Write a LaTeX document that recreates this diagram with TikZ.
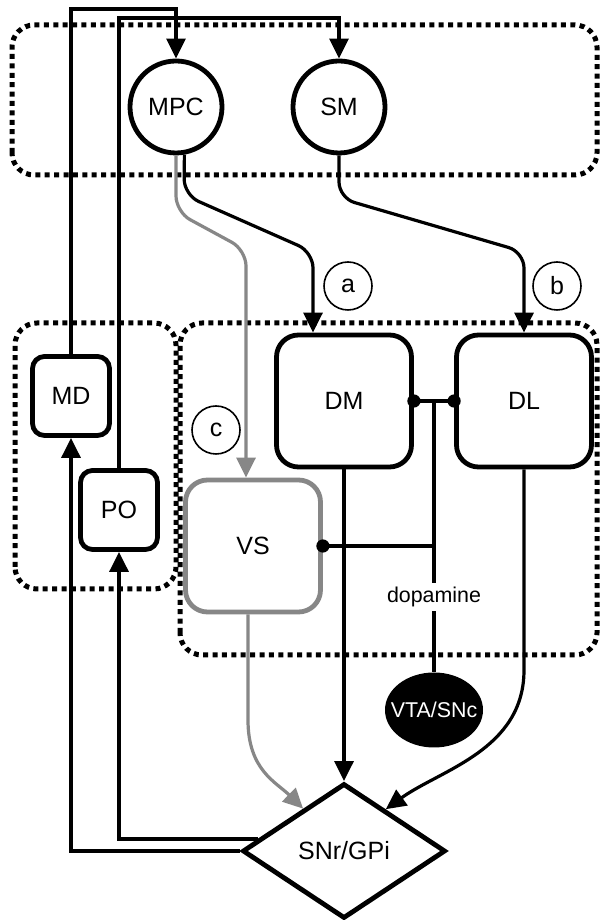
\documentclass[tikz,border=0pt]{standalone}
\usepackage{fontspec}
\setmainfont{Liberation Sans}
\usetikzlibrary{arrows.meta,shapes.geometric}
\definecolor{pathgray}{RGB}{135,135,135}

\begin{document}
\begin{tikzpicture}[x=0.5pt,y=0.5pt,
  lbl/.style={font=\fontsize{12.5}{15}\selectfont},
  conn/.style={line width=1.6pt,-{Triangle[length=10pt,width=9.5pt]}},
  region/.style={line width=2.5pt,dash pattern=on 2.5pt off 2.2pt,rounded corners=11pt},
  area/.style={draw,circle,line width=2.4pt,minimum size=46pt,inner sep=0pt,lbl},
  nucleus/.style={draw,rounded corners=11pt,line width=2.4pt,minimum width=67.5pt,minimum height=66pt,lbl},
  thal/.style={draw,rounded corners=6pt,line width=2.4pt,minimum width=38.5pt,minimum height=39.5pt,lbl},
  tag/.style={draw,circle,line width=0.8pt,minimum size=24pt,inner sep=0pt,lbl}]
  \useasboundingbox (0,0) rectangle (600,920);
  \fill[white] (0,0) rectangle (600,920);
  \draw[region] (12,745) rectangle (597,895);
  \draw[region] (15,331) rectangle (176,597);
  \draw[region] (180,265) rectangle (597,597);

  \node[area] (mpc) at (176,813) {MPC};
  \node[area] (sm) at (339,813) {SM};
  \node[thal] (md) at (71,524) {MD};
  \node[thal] (po) at (119,410) {PO};
  \node[nucleus] (dm) at (344,519) {DM};
  \node[nucleus] (dl) at (524,519) {DL};
  \node[nucleus,draw=pathgray] (vs) at (253,374) {VS};
  \node[ellipse,fill=black,text=white,minimum width=49pt,minimum height=37.5pt,
    inner xsep=-6pt,inner ysep=0pt,font=\fontsize{10.7}{13}\selectfont] (vta) at (434,210) {VTA/SNc};
  \node[diamond,draw,line width=2.4pt,minimum width=101.5pt,minimum height=67.5pt,inner sep=0pt,lbl] (snr) at (344,69) {SNr/GPi};
  \node[tag] (a) at (348,634) {a};
  \node[tag] (b) at (557,634) {b};
  \node[tag] (c) at (216,490) {c};
  \coordinate (hub) at (434,519);

  \draw[conn] (md.north) -- (md.north |- 0,911) -| (mpc.north);
  \draw[conn] (po.north) -- (po.north |- 0,902) -| (sm.north);
  \draw[conn,rounded corners=8pt] (mpc.-80) -- (184,725) -- (313,668) -- (dm.north -| 313,0);
  \draw[conn,pathgray,rounded corners=8pt] (mpc.south) -- (176,708) -- (246,670) -- (vs.north -| 246,0);
  \draw[conn,rounded corners=8pt] (sm.south) -- (339,722) -- (524,668) -- (dl.north);

  \draw[line width=1.6pt] (dm.east) -- (dl.west) (hub) -- (vta.north) (vs.east) -- (vs.east -| hub);
  \fill (dm.east) circle (3.3pt) (dl.west) circle (3.3pt) (vs.east) circle (3.3pt);
  \node[fill=white,inner sep=2pt,font=\fontsize{10.7}{13}\selectfont] (dopa) at (434,323) {dopamine};

  \draw[conn] (dm.south) -- (snr.north);
  \draw[conn,pathgray] (vs.south -| 248,0) -- (248,200) .. controls (248,150) and (276,138) .. (snr.134);
  \draw[conn] (dl.south) -- (524,250) .. controls (524,170) and (440,150) .. (snr.45);
  \draw[conn] (snr.west) -| (md.south);
  \draw[conn] (snr.172) -| (po.south);
\end{tikzpicture}
\end{document}
